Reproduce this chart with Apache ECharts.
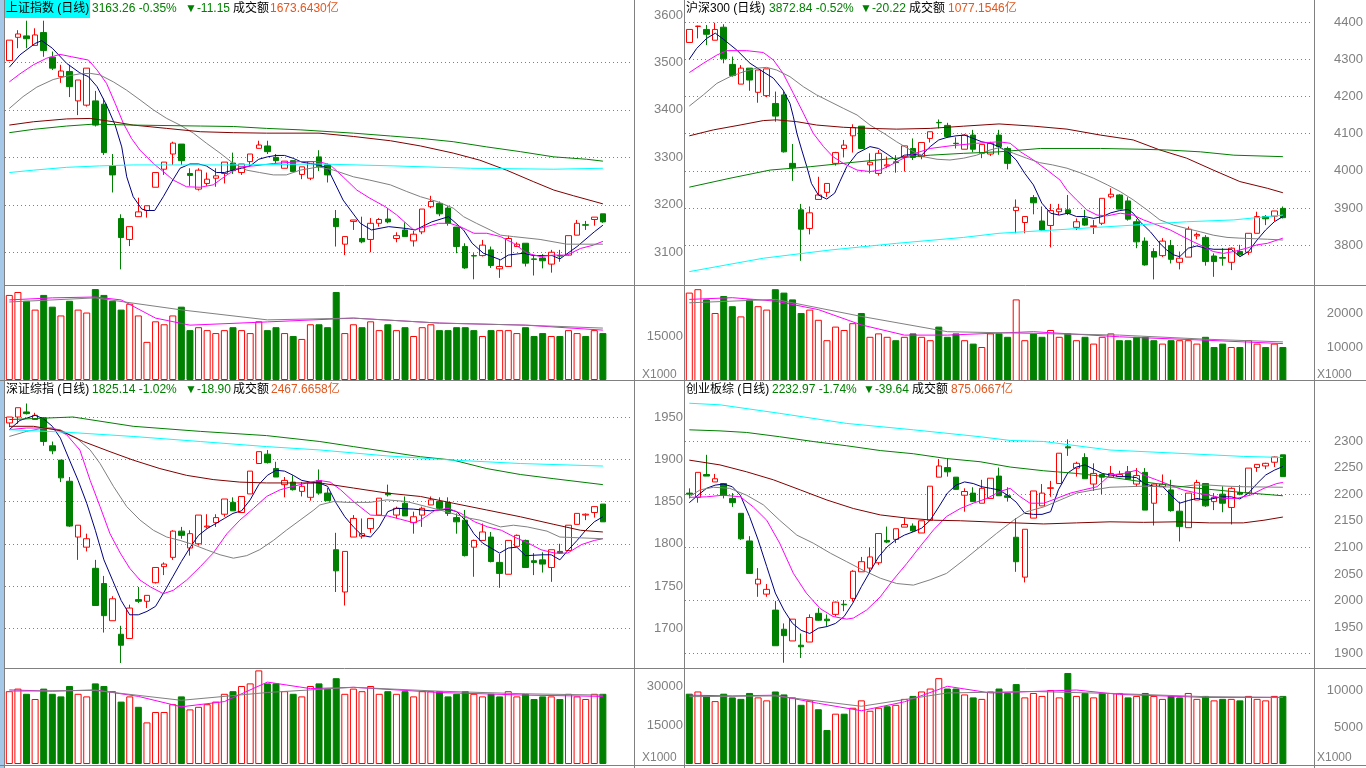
<!DOCTYPE html>
<html><head><meta charset="utf-8">
<script src="https://cdn.jsdelivr.net/npm/echarts@6/dist/echarts.min.js"></script>
<style>html,body{margin:0;padding:0;background:#fff;}#c{width:1366px;height:768px;}</style>
</head><body><div id="c"></div>
<script>
// ---------- tick / header texts ----------
const titleNames = ['上证指数 (日线)', '沪深300 (日线)', '深证综指 (日线)', '创业板综 (日线)'];
const titlePrices = ['3163.26 -0.35%', '3872.84 -0.52%', '1825.14 -1.02%', '2232.97 -1.74%'];
const titleChanges = ['▼-11.15', '▼-20.22', '▼-18.90', '▼-39.64'];
const titleAmountLabel = '成交额';
const titleAmounts = ['1673.6430亿', '1077.1546亿', '2467.6658亿', '875.0667亿'];
const volUnitLabel = 'X1000';

// ---------- 上证指数 ----------
const sh_ohlc = [[3504,3547,3504,3547],[3553,3560,3530,3568],[3556,3550,3530,3588],[3536,3558,3536,3572],[3563,3525,3512,3588],[3511,3488,3484,3523],[3470,3482,3457,3495],[3481,3449,3427,3495],[3419,3463,3389,3463],[3410,3488,3407,3488],
[3419,3368,3365,3440],[3412,3310,3305,3424],[3282,3263,3226,3307],[3171,3131,3064,3180],[3127,3154,3113,3154],[3175,3185,3175,3215],[3188,3198,3173,3198],[3237,3268,3237,3268],[3275,3290,3263,3290],[3307,3330,3284,3333],
[3328,3293,3284,3328],[3266,3262,3240,3277],[3233,3273,3230,3277],[3245,3254,3240,3268],[3256,3261,3238,3277],[3266,3290,3245,3290],[3288,3272,3265,3310],[3268,3286,3263,3286],[3291,3307,3282,3307],[3319,3326,3319,3335],
[3324,3312,3307,3335],[3300,3293,3288,3307],[3277,3292,3277,3292],[3293,3270,3270,3293],[3264,3280,3254,3280],[3256,3291,3252,3291],[3301,3280,3271,3315],[3284,3263,3247,3287],[3171,3154,3112,3189],[3117,3133,3094,3133],
[3165,3168,3147,3168],[3129,3122,3119,3175],[3127,3161,3100,3172],[3161,3169,3154,3172],[3170,3164,3161,3193],[3129,3135,3121,3142],[3147,3133,3133,3163],[3124,3138,3112,3145],[3143,3191,3138,3191],[3196,3207,3193,3219],
[3203,3181,3176,3207],[3193,3161,3156,3197],[3153,3112,3098,3153],[3112,3067,3065,3119],[3093,3092,3043,3098],[3093,3115,3091,3126],[3105,3072,3067,3112],[3065,3070,3046,3084],[3070,3129,3070,3135],[3112,3117,3112,3121],
[3119,3077,3070,3119],[3086,3085,3051,3094],[3088,3082,3066,3096],[3075,3100,3057,3105],[3093,3092,3080,3105],[3094,3135,3093,3135],[3136,3161,3136,3168],[3158,3157,3147,3166],[3169,3174,3156,3174],[3181,3164,3162,3181]];
const sh_vol = [29000,30000,27000,24000,29000,25000,22000,27000,24000,23000,31000,29000,27000,24000,26000,22000,13000,20000,19000,22000,25000,17000,18000,17000,16000,17000,18000,17000,16000,20000,17000,18000,16000,15000,14000,19000,19000,18000,30000,16000,19000,18000,20000,17000,19000,17000,18000,15000,18000,19000,17000,17000,18000,18000,17000,15000,17000,17000,17000,16000,18000,15000,16000,15000,15000,17000,16000,15000,17000,16000];
const sh_ma5 = [[0,3490],[1.24,3516],[3,3540],[3.77,3546],[5,3530],[6.67,3498],[8.2,3478],[9.2,3470],[10.2,3449],[11.3,3410],[12.3,3368],[13.07,3322],[13.65,3259],[14.4,3217],[15.4,3191],[16,3188],[16.9,3188],[17.9,3217],[18.9,3249],[19.85,3277],[21,3286],[22,3286],[22.9,3282],[24.1,3268],[25,3268],[26,3273],[27,3277],[28,3282],[29,3296],[30,3301],[31,3304],[32,3304],[33,3298],[34,3290],[35,3287],[36,3284],[37,3277],[38.8,3210],[40.8,3161],[42.1,3147],[44.1,3154],[46.2,3150],[47.2,3147],[49.1,3164],[51.05,3175],[52.8,3147],[53.8,3119],[55.1,3098],[57.1,3084],[58,3094],[59.8,3098],[60.9,3093],[63.1,3093],[64,3086],[66,3112],[68,3143],[69,3157]];
const sh_ma10 = [[0,3459],[1.24,3476],[2.8,3495],[4.35,3509],[5.9,3517],[7.25,3512],[9.2,3505],[10.2,3484],[11.3,3456],[12.3,3414],[13.25,3372],[14.2,3340],[15.2,3315],[16.75,3287],[17.9,3270],[19.07,3252],[20.6,3238],[22.2,3237],[23.7,3242],[25.3,3263],[26.8,3280],[28.4,3282],[30.7,3287],[33.8,3291],[36,3291],[37.3,3284],[38.8,3259],[40.4,3231],[41.9,3214],[43.7,3196],[45,3179],[47,3147],[48.5,3154],[49.9,3161],[51.2,3161],[52.4,3154],[54,3140],[55.5,3140],[57.1,3133],[58.6,3119],[60.2,3098],[61.7,3091],[63.3,3094],[64.8,3094],[66.4,3108],[67.9,3115],[69,3123]];
const sh_ma20 = [[0,3403],[1.6,3428],[3.2,3448],[5.1,3464],[6.67,3471],[8.2,3476],[9.4,3477],[10.5,3474],[12.1,3459],[13.6,3442],[15.2,3421],[16.75,3400],[18.3,3382],[19.85,3368],[21.4,3351],[22.9,3330],[24.5,3309],[26.05,3287],[27.6,3273],[29.1,3268],[30.7,3263],[32.2,3263],[33.8,3273],[36,3280],[37.7,3273],[40,3259],[41.9,3252],[44.3,3242],[46.2,3228],[47.8,3217],[49.7,3207],[51.6,3193],[52.8,3175],[54.3,3161],[55.9,3147],[57.1,3136],[58.6,3133],[61.7,3127],[64.8,3117],[69,3117]];
const sh_maA = [[0,3368],[2.8,3375],[6.67,3381],[9.4,3382],[12.1,3375],[14.4,3368],[18.3,3361],[22.2,3354],[26.05,3352],[29.9,3351],[36,3351],[40,3344],[44.3,3335],[47.8,3324],[51.6,3309],[54.7,3294],[57.8,3273],[60.9,3249],[63.3,3231],[65.6,3219],[69,3202]];
const sh_maB = [[0,3352],[2.8,3359],[6.67,3366],[9.8,3370],[14.4,3368],[22.2,3366],[26.05,3365],[29.9,3361],[33.8,3358],[40,3351],[44.3,3345],[47.8,3340],[51.6,3333],[55.5,3322],[59.4,3312],[63.3,3301],[67.1,3296],[69,3292]];
const sh_maC = [[0,3268],[2.8,3273],[6.67,3279],[10.5,3282],[14.4,3284],[26,3284],[36,3286],[44.7,3282],[53.6,3277],[63.3,3275],[69,3277]];
const sh_vma1 = [[0,27300],[5,28000],[10,28300],[13,27300],[17,21100],[21,18700],[30,19800],[40,21100],[50,19400],[60,18700],[69,17000]];
const sh_vma2 = [[0,26600],[10,28000],[20,23900],[30,20500],[40,21100],[50,19400],[60,18700],[69,17700]];

// ---------- 沪深300 ----------
const hs_ohlc = [[4345,4380,4345,4380],[4388,4389,4356,4390],[4380,4367,4338,4392],[4351,4380,4351,4398],[4386,4301,4289,4394],[4286,4256,4253,4307],[4233,4276,4233,4284],[4276,4244,4215,4276],[4211,4271,4183,4271],[4202,4274,4198,4274],
[4181,4147,4132,4213],[4204,4051,4049,4213],[4020,4008,3973,4072],[3895,3843,3758,3911],[3845,3887,3829,3904],[3923,3935,3923,3984],[3942,3966,3930,3966],[4020,4049,4014,4051],[4060,4069,4036,4083],[4094,4116,4049,4125],
[4120,4060,4060,4120],[4016,4023,3993,4047],[3993,4047,3987,4056],[4013,4016,4007,4038],[4024,4022,3995,4042],[4038,4067,3998,4067],[4060,4036,4029,4087],[4038,4076,4031,4076],[4087,4105,4076,4105],[4130,4129,4114,4138],
[4122,4092,4089,4129],[4074,4073,4060,4090],[4058,4096,4058,4098],[4096,4058,4050,4110],[4047,4071,4034,4071],[4045,4074,4040,4078],[4096,4065,4043,4110],[4060,4020,4004,4065],[3893,3902,3832,3923],[3861,3877,3832,3877],
[3928,3914,3883,3935],[3865,3841,3839,3904],[3853,3893,3794,3911],[3890,3897,3881,3911],[3895,3886,3881,3935],[3848,3863,3841,3872],[3872,3854,3852,3895],[3850,3852,3830,3868],[3859,3926,3854,3926],[3930,3937,3926,3953],
[3935,3897,3897,3937],[3919,3870,3866,3929],[3863,3809,3792,3870],[3811,3747,3745,3821],[3783,3768,3708,3792],[3772,3811,3768,3819],[3799,3762,3751,3814],[3754,3765,3735,3783],[3768,3843,3768,3850],[3825,3829,3816,3834],
[3821,3756,3745,3827],[3771,3756,3715,3778],[3767,3765,3745,3792],[3754,3792,3733,3794],[3783,3774,3772,3801],[3781,3832,3774,3832],[3832,3877,3832,3890],[3877,3871,3854,3881],[3878,3892,3865,3892],[3899,3874,3872,3904]];
const hs_vol = [26000,27000,24000,20000,25000,22000,19000,24000,22000,21000,27000,26000,24000,20000,21000,18000,12000,16000,15000,17000,20000,13000,14000,13000,12000,13000,14000,13000,12000,16000,13000,14000,12000,11000,10000,14000,14000,13000,24000,12000,14000,13000,15000,13000,14000,12000,13000,11000,13000,14000,12000,12000,13000,13000,12000,11000,12000,12000,12000,11000,13000,10000,11000,10000,10000,12000,11000,10000,11000,10000];
const hs_ma5 = [[0,4300],[0.86,4329],[2.02,4356],[3.02,4370],[4,4353],[5.5,4325],[7.06,4289],[8.6,4266],[9.77,4249],[10.9,4217],[11.7,4181],[12.1,4145],[12.5,4101],[13.07,4056],[13.66,4011],[14.2,3966],[15,3935],[15.98,3924],[16.9,3940],[17.5,3971],[18.3,4011],[19.5,4047],[21,4065],[22,4060],[23,4045],[24,4029],[25,4042],[26,4044],[27,4042],[28,4065],[29,4083],[30,4090],[31,4094],[32,4096],[33,4087],[34,4078],[34.96,4074],[36,4065],[37,4051],[38,4029],[39,3993],[40,3962],[40.98,3913],[42,3886],[43,3881],[44,3886],[45,3877],[46,3877],[47,3872],[48,3877],[49,3887],[50,3893],[51,3896],[51.6,3886],[52.4,3863],[53.6,3836],[54.7,3805],[55.5,3787],[56.3,3774],[57,3769],[58,3792],[59,3798],[60,3792],[60.98,3789],[63,3789],[64,3769],[65,3783],[66,3814],[67,3841],[68,3863],[69,3877]];
const hs_ma10 = [[0,4264],[1.63,4289],[3.2,4311],[4.35,4323],[6.67,4323],[8.6,4318],[9.77,4298],[10.9,4262],[12.1,4208],[13.26,4155],[14.4,4101],[15.6,4065],[16.7,4038],[17.9,4020],[19.5,4002],[21,3998],[22.2,4002],[23.3,4014],[24.5,4029],[26,4045],[28,4060],[30.3,4067],[33.4,4074],[36,4078],[37.3,4074],[38.5,4051],[40,4029],[41.6,4002],[43.1,3975],[43.9,3948],[45,3922],[46.2,3895],[47.4,3881],[48.6,3879],[50.1,3886],[51.6,3881],[52.8,3868],[54.4,3854],[55.9,3841],[57.4,3823],[58.6,3809],[59.8,3796],[60.9,3783],[62.1,3778],[63.3,3783],[64.8,3792],[66,3801],[67.2,3805],[69,3819]];
const hs_ma20 = [[0,4174],[1.63,4204],[3.2,4235],[4.73,4253],[6.28,4266],[7.83,4276],[9,4278],[10.15,4271],[11.7,4253],[13.26,4226],[14.8,4204],[16.35,4186],[17.9,4168],[19.5,4150],[21,4123],[22.6,4101],[24.1,4078],[25.7,4056],[27.2,4038],[28.8,4031],[30.3,4029],[31.9,4034],[33.4,4042],[34.96,4056],[36,4062],[37.7,4047],[39.2,4034],[40.7,4022],[42.2,4016],[43.9,4007],[45.4,3995],[47,3980],[48.6,3962],[50.1,3944],[51.6,3922],[53.2,3895],[54.7,3868],[56.3,3854],[57.8,3845],[59.4,3836],[60.9,3827],[62.5,3821],[64,3819],[67.2,3816],[69,3814]];
const hs_maA = [[0,4094],[2.8,4110],[5.9,4123],[8.6,4135],[10.15,4137],[12.5,4132],[14.8,4123],[17.9,4117],[21,4114],[24.1,4112],[28,4114],[31.9,4120],[36,4126],[40,4120],[43.9,4112],[47.8,4096],[51.6,4083],[54.7,4056],[57.8,4034],[60.9,4002],[64,3971],[67.2,3953],[69,3941]];
const hs_maB = [[0,3956],[4.73,3980],[9.4,4002],[14.05,4011],[18.7,4022],[24.1,4034],[28,4042],[31.9,4047],[36,4051],[40.8,4060],[47.8,4060],[52.4,4058],[55.5,4056],[59.4,4051],[63.3,4042],[69,4038]];
const hs_maC = [[0,3729],[8.6,3765],[16.35,3787],[24.1,3805],[31.9,3821],[36,3832],[43.9,3843],[51.6,3854],[57.8,3863],[63.3,3868],[69,3881]];
const hs_vma1 = [[0,24000],[5,24500],[10,23500],[15,21000],[20,16500],[25,13500],[30,13500],[40,14500],[50,13000],[60,12000],[69,11000]];
const hs_vma2 = [[0,23000],[10,24000],[20,19000],[30,14500],[40,14000],[50,13500],[60,12300],[69,11500]];

// ---------- 深证综指 ----------
const sz_ohlc = [[1943,1950,1938,1950],[1950,1961,1942,1961],[1956,1954,1953,1966],[1947,1952,1947,1955],[1949,1921,1916,1950],[1916,1910,1906,1921],[1899,1878,1873,1899],[1874,1821,1820,1879],[1808,1822,1781,1822],[1796,1806,1791,1812],
[1771,1727,1727,1781],[1753,1715,1695,1762],[1709,1735,1709,1738],[1693,1680,1659,1703],[1688,1724,1688,1728],[1734,1732,1730,1749],[1732,1739,1724,1739],[1754,1772,1753,1772],[1773,1776,1763,1778],[1784,1815,1781,1816],
[1815,1810,1806,1820],[1795,1812,1786,1816],[1800,1834,1798,1834],[1820,1821,1818,1835],[1825,1831,1820,1835],[1835,1853,1832,1853],[1849,1839,1839,1855],[1837,1856,1837,1856],[1859,1886,1859,1886],[1895,1909,1895,1909],
[1906,1896,1895,1911],[1889,1879,1879,1897],[1870,1875,1855,1879],[1873,1864,1863,1881],[1862,1868,1856,1873],[1855,1872,1851,1872],[1875,1860,1858,1888],[1860,1851,1851,1866],[1793,1768,1743,1813],[1743,1791,1727,1791],
[1808,1830,1808,1834],[1809,1812,1806,1830],[1818,1830,1813,1830],[1834,1854,1834,1854],[1860,1858,1856,1870],[1834,1842,1830,1844],[1848,1833,1833,1856],[1825,1832,1812,1838],[1834,1842,1820,1844],[1846,1852,1846,1856],
[1850,1842,1840,1855],[1849,1836,1833,1855],[1831,1826,1812,1836],[1828,1786,1785,1840],[1796,1804,1761,1805],[1804,1814,1804,1824],[1808,1779,1778,1814],[1778,1765,1748,1788],[1764,1804,1764,1804],[1797,1810,1797,1811],
[1804,1772,1772,1805],[1780,1778,1763,1789],[1781,1776,1766,1790],[1772,1793,1755,1793],[1791,1789,1788,1800],[1792,1822,1792,1822],[1823,1836,1823,1836],[1834,1835,1828,1836],[1837,1844,1831,1844],[1847,1826,1826,1847]];
const sz_vol = [28000,29000,27000,25000,29000,27000,26000,30000,27000,26000,31000,30000,28000,24000,26000,22000,16000,20000,20000,23000,26000,21000,22000,23000,24000,27000,28000,30000,31000,36000,31000,31000,28000,27000,26000,30000,31000,29000,33000,27000,29000,28000,30000,27000,28000,27000,28000,26000,28000,28000,28000,26000,27000,28000,27000,26000,27000,26000,28000,26000,27000,25000,26000,26000,25000,27000,26000,25000,27000,27000];
const sz_ma5 = [[0,1935],[1.24,1946],[3,1952],[3.96,1948],[5,1939],[5.94,1925],[7,1899],[8,1875],[9,1848],[10,1816],[11,1781],[12,1757],[13,1733],[14,1716],[15,1716],[16,1720],[17,1726],[18,1743],[19,1761],[20,1779],[21.1,1797],[22,1810],[23,1818],[24,1824],[25,1830],[26,1836],[27,1839],[28,1852],[29,1870],[30,1881],[31,1887],[32,1886],[33,1881],[34,1875],[35,1873],[36,1872],[37,1868],[38,1848],[39,1832],[40,1820],[41,1810],[42,1808],[43,1820],[44,1838],[45,1842],[47,1841],[49,1839],[51,1841],[52,1838],[53,1828],[54,1812],[55,1801],[56,1795],[57,1789],[58,1795],[59,1796],[60,1786],[62,1787],[63,1787],[64,1781],[65,1793],[66,1804],[67,1816],[68,1826],[69,1832]];
const sz_ma10 = [[0,1935],[2,1937],[4,1937],[5.1,1937],[6.67,1929],[8.2,1911],[9.4,1875],[10.55,1844],[11.7,1812],[12.9,1789],[14,1771],[15.2,1757],[16.4,1749],[17.9,1741],[19.07,1745],[20.6,1757],[22.2,1773],[23.7,1789],[25.3,1812],[26.8,1828],[28.4,1842],[29.9,1856],[31.5,1864],[33,1868],[34.6,1872],[36,1875],[37.3,1873],[38.5,1864],[40,1850],[42,1834],[44,1833],[45.5,1829],[47,1825],[47.8,1828],[49.4,1839],[51,1842],[52.5,1836],[54.1,1826],[55.6,1820],[57.2,1816],[58.7,1808],[60.3,1801],[61.8,1793],[63.4,1789],[64.9,1789],[66.5,1799],[68,1804],[69,1806]];
const sz_ma20 = [[0,1927],[2,1933],[4,1937],[5.9,1935],[7.83,1925],[9.4,1911],[10.55,1895],[12.1,1868],[13.65,1844],[15.2,1828],[16.75,1816],[18.3,1808],[19.85,1804],[21.4,1799],[22.9,1793],[24.5,1787],[26.05,1783],[27.6,1786],[29.1,1793],[30.7,1804],[32.2,1816],[33.8,1828],[35.4,1840],[36.1,1846],[37.7,1850],[39.2,1849],[41.9,1849],[43.9,1852],[46.2,1850],[48.5,1844],[50.8,1838],[53.1,1831],[54.7,1828],[57.1,1820],[58.6,1822],[60.2,1820],[62.5,1815],[64,1808],[69,1806]];
const sz_maA = [[0,1939],[2.8,1939],[5.9,1934],[8.6,1921],[11.7,1909],[14.4,1899],[17.5,1889],[20.6,1881],[23.7,1876],[26.8,1873],[29.9,1872],[33.8,1872],[36.1,1872],[40,1866],[43.9,1860],[47.8,1856],[51.6,1848],[55.5,1840],[59.4,1832],[63.3,1823],[66.4,1816],[69,1814]];
const sz_maB = [[0,1947],[7.4,1950],[14.4,1939],[22.2,1933],[29.9,1928],[36.1,1921],[40,1915],[43.9,1909],[47.8,1903],[51.6,1899],[55.5,1889],[59.4,1882],[63.3,1877],[69,1870]];
const sz_maC = [[0,1935],[6.67,1932],[14.4,1927],[22.2,1921],[29.9,1915],[36.1,1911],[43.9,1904],[51.6,1899],[59.4,1895],[69,1892]];
const sz_vma1 = [[0,28500],[5,28000],[10,28500],[15,26000],[20,22000],[25,24000],[30,31500],[35,29000],[40,29500],[50,27500],[60,26500],[69,26000]];
const sz_vma2 = [[0,28000],[10,28300],[20,24500],[30,27500],[40,29500],[50,28000],[60,27000],[69,26500]];

// ---------- 创业板综 ----------
const cy_ohlc = [[2202,2200,2192,2211],[2194,2241,2184,2241],[2237,2234,2234,2274],[2223,2229,2223,2238],[2220,2198,2192,2220],[2192,2184,2176,2202],[2164,2116,2114,2164],[2112,2051,2051,2121],[2031,2040,2007,2061],[2012,2021,2007,2031],
[1982,1915,1915,1999],[1946,1934,1883,1957],[1924,1965,1924,1965],[1916,1913,1892,1938],[1922,1968,1922,1974],[1976,1963,1962,1986],[1965,1962,1951,1974],[1974,1997,1970,1998],[1993,1992,1980,2001],[2004,2055,1998,2057],
[2054,2073,2054,2082],[2061,2082,2053,2100],[2071,2126,2067,2126],[2113,2110,2108,2139],[2115,2135,2108,2135],[2138,2143,2138,2155],[2140,2131,2129,2145],[2127,2150,2127,2150],[2151,2215,2151,2215],[2232,2253,2232,2266],
[2250,2242,2233,2267],[2232,2209,2209,2232],[2198,2205,2167,2211],[2202,2186,2186,2213],[2183,2211,2183,2227],[2192,2230,2192,2230],[2234,2197,2197,2250],[2197,2194,2186,2213],[2119,2073,2054,2155],[2044,2134,2034,2134],
[2155,2206,2155,2206],[2178,2202,2178,2219],[2211,2212,2195,2225],[2220,2277,2220,2277],[2289,2287,2272,2303],[2249,2258,2233,2261],[2269,2229,2229,2277],[2219,2239,2206,2258],[2237,2232,2200,2237],[2232,2239,2232,2253],
[2233,2237,2233,2244],[2242,2228,2228,2253],[2219,2235,2214,2249],[2241,2170,2170,2249],[2183,2219,2141,2220],[2214,2219,2214,2237],[2208,2169,2167,2227],[2168,2139,2111,2186],[2137,2202,2137,2202],[2189,2222,2189,2227],
[2220,2178,2176,2220],[2186,2194,2170,2202],[2200,2183,2166,2215],[2175,2211,2143,2213],[2203,2200,2198,2217],[2202,2249,2201,2249],[2250,2256,2242,2256],[2253,2258,2247,2259],[2260,2270,2251,2271],[2274,2233,2233,2274]];
const cy_vol = [9500,9800,9200,8500,9500,9000,8800,9600,9000,8600,9800,9400,9000,8000,8600,7400,4600,6800,6800,7600,8600,7200,7600,7800,8000,8800,9200,9800,10200,11600,10200,10200,9400,9000,8800,9800,10200,9600,10800,9000,9600,9200,10000,9000,12300,9200,9600,9000,9600,9600,9600,9000,9200,9600,9200,8800,9200,9000,9600,8800,9200,8600,8800,8800,8600,9200,8800,8600,9200,9200];
const cy_ma5 = [[0,2184],[1,2198],[2,2211],[3,2217],[3.95,2219],[5,2214],[5.93,2198],[7,2158],[8,2114],[9,2064],[10,2014],[11,1982],[12,1957],[13,1944],[14,1938],[15,1948],[16,1951],[17,1957],[18,1970],[19,1995],[20,2026],[21.1,2057],[22,2082],[23,2101],[24,2114],[25,2123],[26,2129],[27,2136],[28,2151],[29,2176],[30,2202],[31,2217],[32,2223],[33,2220],[34,2214],[35,2211],[36,2208],[37,2198],[38,2185],[39,2164],[40,2162],[41,2162],[42,2167],[42.9,2208],[44,2240],[45,2251],[46,2255],[47,2247],[48,2239],[49,2236],[50,2233],[51,2233],[52,2231],[53,2219],[54,2215],[55,2215],[56,2198],[57,2183],[58,2188],[59,2192],[60,2189],[61,2192],[62,2195],[63,2195],[64,2191],[65,2202],[66,2220],[67,2236],[68,2245],[69,2252]];
const cy_ma10 = [[0,2194],[2,2195],[3.95,2198],[5.93,2195],[7.44,2176],[9,2151],[10.5,2108],[12.1,2051],[13.6,2014],[15.2,1985],[16.7,1970],[18.3,1965],[19.07,1967],[20.6,1982],[22.2,2007],[23.7,2039],[25.3,2070],[26.8,2101],[28.4,2133],[29.9,2158],[31.5,2173],[33,2183],[34.6,2192],[36.1,2205],[37.3,2211],[38.4,2196],[39.6,2183],[41.2,2183],[42.7,2192],[44.3,2202],[45.8,2208],[47.4,2214],[48.9,2236],[50.5,2239],[52,2245],[52.8,2236],[54.3,2227],[55.9,2217],[57.4,2208],[59,2202],[60.5,2198],[62.1,2192],[63.6,2192],[65.2,2198],[66.8,2211],[68.3,2220],[69,2222]];
const cy_ma20 = [[0,2195],[1.24,2208],[2.8,2213],[4.7,2211],[6.67,2198],[8.6,2180],[10.5,2151],[12.5,2123],[14.4,2108],[16.4,2089],[18.3,2073],[20.2,2057],[22.2,2042],[24.1,2032],[26.05,2029],[28,2039],[29.9,2051],[31.9,2076],[33.8,2101],[35.7,2126],[37.7,2151],[39.2,2167],[41.2,2176],[43.1,2189],[45,2202],[47,2208],[48.9,2213],[50.9,2214],[52.8,2215],[54.7,2214],[56.7,2213],[58.6,2217],[60.5,2217],[62.5,2215],[64.4,2214],[69,2213]];
const cy_maA = [[0,2264],[3.57,2255],[6.67,2242],[9.77,2227],[12.9,2208],[16,2189],[19.07,2173],[22.2,2161],[25.3,2155],[28.4,2151],[31.5,2150],[34.6,2148],[41.2,2144],[45,2146],[48.9,2148],[52.8,2147],[56.7,2148],[60.5,2146],[64.4,2146],[66.8,2151],[69,2157]];
const cy_maB = [[0,2321],[3.57,2319],[6.67,2316],[10.5,2308],[14.4,2299],[18.3,2291],[22.2,2282],[26.05,2276],[29.9,2267],[33.8,2261],[37.3,2251],[41.2,2244],[45,2239],[48.9,2232],[52.8,2223],[56.7,2215],[60.5,2209],[64.4,2203],[69,2197]];
const cy_maC = [[0,2371],[3.57,2368],[10.5,2352],[18.3,2333],[26.05,2321],[33.8,2308],[37.3,2301],[41.2,2299],[48.9,2283],[56.7,2277],[64.4,2271],[69,2269]];
const cy_vma1 = [[0,9300],[5,9200],[10,9300],[15,8200],[20,7200],[25,8400],[30,10500],[35,9600],[40,9800],[45,10000],[50,9400],[60,9000],[69,9000]];
const cy_vma2 = [[0,9100],[10,9200],[20,7800],[30,9600],[40,9800],[50,9500],[60,9100],[69,9000]];

// ---------- layout / style ----------
const SLOTS = 73;
const cats = [];
for (let i = 0; i < SLOTS; i++) cats.push(String(i));
const FONT = '"Liberation Sans","Noto Sans CJK SC",sans-serif';
const UP = '#ff0000', DOWN = '#008000', GRIDC = '#808080';
const MA_COLORS = ['#000080', '#ff00ff', '#808080', '#800000', '#008000', '#00ffff'];
const VMA_COLORS = ['#ff00ff', '#808080'];

const panels = [
  {left:5, pTop:15, pH:284.7, yMin:3000, yMax:3600, yInt:100, lineInt:100, lab:[3100,3600],
   vTop:286, vH:94, vMax:32045, vInt:15000, vLab:[15000],
   ohlc:sh_ohlc, vol:sh_vol, mas:[sh_ma5,sh_ma10,sh_ma20,sh_maA,sh_maB,sh_maC], vmas:[sh_vma1,sh_vma2]},
  {left:685, pTop:3.4, pH:279.0, yMin:3700, yMax:4450, yInt:100, lineInt:100, lab:[3800,4400],
   vTop:286, vH:95, vMax:27941, vInt:10000, vLab:[10000,20000],
   ohlc:hs_ohlc, vol:hs_vol, mas:[hs_ma5,hs_ma10,hs_ma20,hs_maA,hs_maB,hs_maC], vmas:[hs_vma1,hs_vma2]},
  {left:5, pTop:383.2, pH:287.4, yMin:1650, yMax:1990, yInt:50, lineInt:50, lab:[1700,1950],
   vTop:669, vH:95, vMax:36538, vInt:15000, vLab:[15000,30000],
   ohlc:sz_ohlc, vol:sz_vol, mas:[sz_ma5,sz_ma10,sz_ma20,sz_maA,sz_maB,sz_maC], vmas:[sz_vma1,sz_vma2]},
  {left:685, pTop:387.8, pH:319.1, yMin:1800, yMax:2400, yInt:50, lineInt:100, lab:[1900,2300],
   vTop:669, vH:95, vMax:12838, vInt:5000, vLab:[5000,10000],
   ohlc:cy_ohlc, vol:cy_vol, mas:[cy_ma5,cy_ma10,cy_ma20,cy_maA,cy_maB,cy_maC], vmas:[cy_vma1,cy_vma2]}
];

const grid = [], xAxis = [], yAxis = [], series = [];
const dotted = {show:true, showMinLine:false, showMaxLine:false, lineStyle:{color:GRIDC, width:1, type:[1,3]}};
const LABEL_FS = 13;

panels.forEach((p) => {
  const gP = grid.length; grid.push({left:p.left, top:p.pTop, width:628, height:p.pH});
  const gV = grid.length; grid.push({left:p.left, top:p.vTop, width:628, height:p.vH});
  const xc = xAxis.length; xAxis.push({type:'category', gridIndex:gP, data:cats, show:false, boundaryGap:true});
  const xl = xAxis.length; xAxis.push({type:'value', gridIndex:gP, min:-0.5, max:SLOTS-0.5, show:false});
  const xvc = xAxis.length; xAxis.push({type:'category', gridIndex:gV, data:cats, show:false, boundaryGap:true});
  const xvl = xAxis.length; xAxis.push({type:'value', gridIndex:gV, min:-0.5, max:SLOTS-0.5, show:false});

  const yp = yAxis.length;
  yAxis.push({type:'value', gridIndex:gP, position:'right', min:p.yMin, max:p.yMax, interval:p.yInt, scale:true,
    axisLine:{show:false}, axisTick:{show:false},
    axisLabel:{color:GRIDC, fontSize:LABEL_FS, fontFamily:FONT, align:'right', margin:50,
      formatter:(v) => { const r = Math.round(v); return (r >= p.lab[0] && r <= p.lab[1] && Math.abs(v - r) < 1e-6) ? String(r) : ''; }},
    splitLine: (p.lineInt === p.yInt) ? dotted : {show:false}});
  if (p.lineInt !== p.yInt) {
    yAxis.push({type:'value', gridIndex:gP, position:'left', min:p.yMin, max:p.yMax, interval:p.lineInt, scale:true,
      axisLine:{show:false}, axisTick:{show:false}, axisLabel:{show:false}, splitLine:dotted});
  }
  const yv = yAxis.length;
  yAxis.push({type:'value', gridIndex:gV, position:'right', min:0, max:p.vMax, interval:p.vInt,
    axisLine:{show:false}, axisTick:{show:false}, splitLine:{show:false},
    axisLabel:{color:GRIDC, fontSize:LABEL_FS, fontFamily:FONT, align:'right', margin:50,
      formatter:(v) => (p.vLab.indexOf(Math.round(v)) >= 0 ? String(Math.round(v)) : '')}});

  series.push({type:'candlestick', xAxisIndex:xc, yAxisIndex:yp, data:p.ohlc, barWidth:6, z:2,
    itemStyle:{color:'#ffffff', color0:DOWN, borderColor:UP, borderColor0:DOWN, borderWidth:1}});
  p.mas.forEach((pts, k) => {
    series.push({type:'line', xAxisIndex:xl, yAxisIndex:yp, data:pts, showSymbol:false, symbol:'none', z:3,
      lineStyle:{color:MA_COLORS[k], width:1}, silent:true});
  });
  series.push({type:'bar', xAxisIndex:xvc, yAxisIndex:yv, barWidth:7, z:2,
    data:p.vol.map((v, i) => {
      const up = p.ohlc[i][1] >= p.ohlc[i][0];
      return {value:v, itemStyle: up ? {color:'#ffffff', borderColor:UP, borderWidth:1} : {color:DOWN, borderColor:DOWN, borderWidth:1}};
    })});
  p.vmas.forEach((pts, k) => {
    if (pts.length) series.push({type:'line', xAxisIndex:xvl, yAxisIndex:yv, data:pts, showSymbol:false, symbol:'none', z:3,
      lineStyle:{color:VMA_COLORS[k], width:1}, silent:true});
  });
});

// ---------- frame lines and texts ----------
const graphic = [];
function ln(x1, y1, x2, y2) { graphic.push({type:'line', shape:{x1, y1, x2, y2}, style:{stroke:GRIDC, lineWidth:1}, z:50, silent:true}); }
ln(4.5, 0, 4.5, 768);
ln(634.5, 0, 634.5, 768);
ln(684.5, 0, 684.5, 768);
ln(1314.5, 0, 1314.5, 768);
ln(4, 285.5, 1366, 285.5);
ln(0, 380.5, 1366, 380.5);
ln(4, 668.5, 1366, 668.5);
ln(0, 765.5, 1366, 765.5);
graphic.push({type:'rect', shape:{x:0, y:0, width:4, height:768}, style:{fill:'#a6c8e8'}, z:40, silent:true});
// selected-panel highlight behind the first title
graphic.push({type:'rect', shape:{x:5, y:0, width:85, height:18}, style:{fill:'#00ffff'}, z:55, silent:true});

// header segments: [x of name, x of price, x of change, x of 成交额, x of amount, y centre]
const titleX = [[6, 92, 185, 233, 270, 9], [686, 769, 860, 909, 948, 9], [6, 92, 185, 233, 271, 390], [686, 772, 863, 912, 951, 390]];
const TFONT = '12px ' + FONT;
titleX.forEach((t, j) => {
  const segs = [[titleNames[j], '#000000'], [titlePrices[j], '#008000'], [titleChanges[j], '#008000'], [titleAmountLabel, '#000000'], [titleAmounts[j], '#e4561e']];
  segs.forEach((s, k) => {
    graphic.push({type:'text', x:t[k], y:t[5], z:60, silent:true,
      style:{text:s[0], fill:s[1], font:TFONT, textVerticalAlign:'middle', verticalAlign:'middle'}});
  });
});
[[642, 369], [1317, 369], [642, 752], [1317, 752]].forEach((pos) => {
  graphic.push({type:'text', x:pos[0], y:pos[1], z:60, silent:true, style:{text:volUnitLabel, fill:GRIDC, font:'12px ' + FONT}});
});

const chart = echarts.init(document.getElementById('c'), null, {renderer:'canvas'});
chart.setOption({animation:false, backgroundColor:'#ffffff', grid, xAxis, yAxis, series, graphic});
</script></body></html>
